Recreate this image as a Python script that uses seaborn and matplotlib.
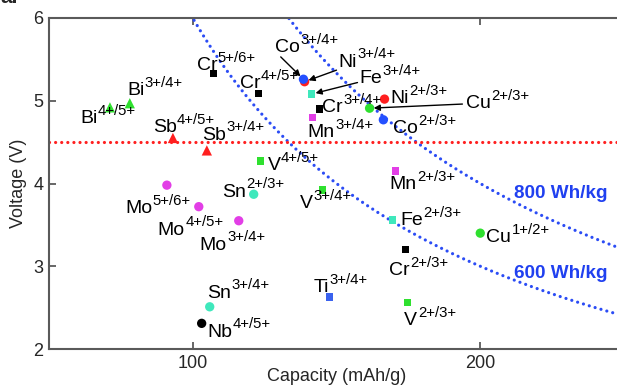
import numpy as np
import pandas as pd
import matplotlib
matplotlib.use("Agg")
import matplotlib.pyplot as plt
import seaborn as sns

# ---------------- data ----------------
elements = ['Bi', 'Bi', 'Sb', 'Sb', 'Cr', 'Cr', 'Ni', 'Co', 'Fe', 'Cr', 'Mn',
            'Ni', 'Cu', 'Co', 'Mn', 'V', 'Sn', 'V', 'Mo', 'Mo', 'Mo', 'Fe',
            'Cu', 'Cr', 'Ti', 'V', 'Sn', 'Nb']
couples = ['4+/5+', '3+/4+', '4+/5+', '3+/4+', '5+/6+', '4+/5+', '3+/4+',
           '3+/4+', '3+/4+', '3+/4+', '3+/4+', '2+/3+', '2+/3+', '2+/3+',
           '2+/3+', '4+/5+', '2+/3+', '3+/4+', '5+/6+', '4+/5+', '3+/4+',
           '2+/3+', '1+/2+', '2+/3+', '3+/4+', '2+/3+', '3+/4+', '4+/5+']
capacity = [71.2, 78.1, 93.1, 104.9, 107.3, 122.9, 138.9, 138.5, 141.3,
            144.1, 141.7, 166.7, 161.5, 166.3, 170.5, 123.6, 121.2, 145.1,
            91.0, 102.1, 116.0, 169.4, 200.0, 174.0, 147.6, 174.7, 105.9,
            103.1]
voltage = [4.92, 4.97, 4.55, 4.40, 5.33, 5.09, 5.23, 5.26, 5.08, 4.90, 4.80,
           5.02, 4.91, 4.77, 4.15, 4.27, 3.87, 3.92, 3.98, 3.72, 3.55, 3.56,
           3.40, 3.20, 2.63, 2.56, 2.51, 2.31]
energy_densities = [600, 800]          # Wh/kg iso-energy lines
voltage_limit = 4.5                    # V
x_ticks = [100, 200]
y_ticks = [2, 3, 4, 5, 6]

# ---------------- styles / layout ----------------
element_color = {'Bi': 'green', 'Sb': 'red', 'Cr': 'black', 'Ni': 'red',
                 'Co': 'blue', 'Fe': 'cyan', 'Mn': 'magenta', 'Cu': 'green',
                 'V': 'green', 'Sn': 'cyan', 'Mo': 'magenta', 'Ti': 'tiblue',
                 'Nb': 'black'}
element_shape = {'Bi': 'tri', 'Sb': 'tri', 'Cr': 'sq', 'Ni': 'circ',
                 'Co': 'circ', 'Fe': 'sq', 'Mn': 'sq', 'Cu': 'circ',
                 'V': 'sq', 'Sn': 'circ', 'Mo': 'circ', 'Ti': 'sq',
                 'Nb': 'circ'}
palette = {'green': '#2fe02f', 'red': '#ff1f1f', 'black': '#000000',
           'blue': '#2450ff', 'cyan': '#3fe8bc', 'magenta': '#e23ee6',
           'tiblue': '#3a62ee'}
markers = {'tri': '^', 'sq': 's', 'circ': 'o'}
sizes = {'tri': 55, 'sq': 28, 'circ': 45}

label_pos = [(60.8, 4.73), (77.1, 5.07), (86.1, 4.62), (103.1, 4.53),
             (101.4, 5.37), (116.3, 5.15), (150.7, 5.41), (128.5, 5.59),
             (158.0, 5.21), (145.1, 4.86), (139.9, 4.56), (168.75, 4.97),
             (195.1, 4.91), (169.8, 4.61), (168.4, 3.93), (126.0, 4.16),
             (110.1, 3.84), (137.2, 3.70), (76.4, 3.64), (87.8, 3.38),
             (102.4, 3.20), (172.2, 3.50), (202.1, 3.29), (168.4, 2.89),
             (142.0, 2.69), (173.6, 2.29), (104.9, 2.62), (105.2, 2.15)]
arrow_tails = {6: (150.0, 5.37), 7: (130.6, 5.53), 8: (157.3, 5.22),
               12: (193.8, 4.96)}
energy_label_pos = {600: (211.8, 2.858), 800: (211.8, 3.825)}
dotted = (0, (0.01, 1.9))
main_fs = 14
sup_fs = 10.7
sup_raise = 6.0   # points

sns.set_style("ticks")
plt.rcParams['font.family'] = ['Liberation Sans', 'DejaVu Sans']

df = pd.DataFrame({
    'capacity': capacity,
    'voltage': voltage,
    'element': elements,
    'couple': couples,
})
df['color'] = df['element'].map(element_color)
df['shape'] = df['element'].map(element_shape)

DPI = 100
fig = plt.figure(figsize=(6.17, 3.89), dpi=DPI)
ax = fig.add_axes([49 / 617, 40 / 389, 575 / 617, 331 / 389])

# iso-energy curves
cap_grid = np.linspace(50, 250, 500)
for e in energy_densities:
    sns.lineplot(x=cap_grid, y=e / cap_grid, ax=ax, color='#2b4cf5',
                 lw=2.3, linestyle=dotted, dash_capstyle='round',
                 zorder=1)
    ex, ey = energy_label_pos[e]
    ax.text(ex, ey, f'{e} Wh/kg', color='#2040f0', fontsize=13.6,
            fontweight='bold', ha='left', va='baseline')

ax.axhline(voltage_limit, color='#ff2020', lw=2.3, linestyle=dotted,
           dash_capstyle='round', zorder=1)

sns.scatterplot(data=df, x='capacity', y='voltage', hue='color',
                palette=palette, style='shape', markers=markers,
                size='shape', sizes=sizes, linewidth=0, legend=False,
                ax=ax, zorder=3)

ax.set_xlim(50, 250)
ax.set_ylim(2, 6)

main_texts = []
for i, el in enumerate(elements):
    lx, ly = label_pos[i]
    t = ax.text(lx, ly, el, fontsize=main_fs, ha='left', va='baseline',
                color='black', zorder=4)
    main_texts.append(t)
    if i in arrow_tails:
        ax.annotate('', xy=(capacity[i], voltage[i]), xytext=arrow_tails[i],
                    arrowprops=dict(arrowstyle='-|>', color='black', lw=1.0,
                                    mutation_scale=9, shrinkA=0, shrinkB=3),
                    zorder=4)

fig.canvas.draw()
renderer = fig.canvas.get_renderer()
for i, cp in enumerate(couples):
    w_pts = main_texts[i].get_window_extent(renderer).width * 72 / DPI
    ax.annotate(cp, xy=label_pos[i], xycoords='data',
                xytext=(w_pts + 0.3, sup_raise), textcoords='offset points',
                fontsize=sup_fs, ha='left', va='baseline', color='black',
                zorder=4)

ax.set_xticks(x_ticks)
ax.set_yticks(y_ticks)
ax.tick_params(direction='in', top=True, right=True, length=5, width=1.3,
               color='#5a5a5a', labelsize=13, pad=4)
for s in ax.spines.values():
    s.set_color('#5a5a5a')
    s.set_linewidth(1.5)
    s.set_visible(True)

ax.set_xlabel('Capacity (mAh/g)', fontsize=13)
ax.set_ylabel('Voltage (V)', fontsize=13)
ax.xaxis.set_label_coords(0.5, -0.058)
ax.xaxis.label.set_va('top')
ax.yaxis.set_label_coords(-0.038, 0.5)

fig.text(0.0, 1 - 3 / 389, 'a.', fontsize=15, fontweight='bold',
         ha='left', va='baseline')

fig.savefig('out.png', dpi=DPI)
